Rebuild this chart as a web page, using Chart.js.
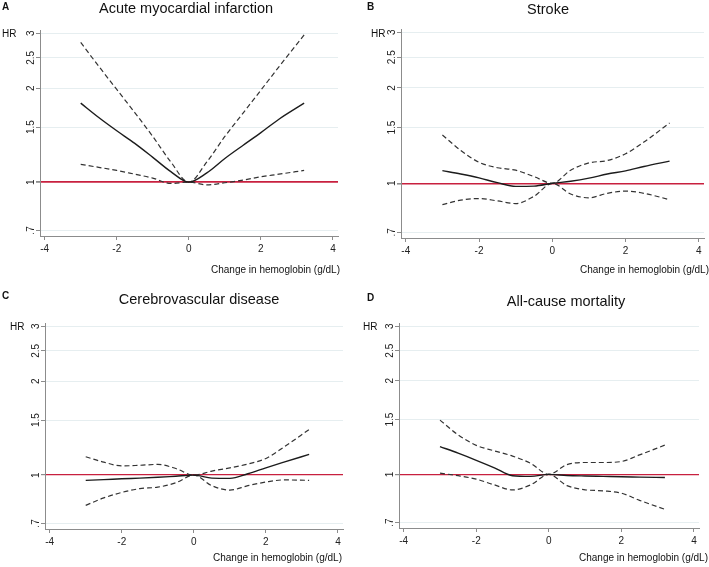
<!DOCTYPE html>
<html>
<head>
<meta charset="utf-8">
<title>Change in hemoglobin and HR</title>
<script src="https://cdn.jsdelivr.net/npm/chart.js@4"></script>
<style>
    body { margin: 0; background: #fff; }
    #figure { position: relative; width: 709px; height: 567px; font-family: "Liberation Sans", Arial, sans-serif; color: #111; }
    #figure canvas { position: absolute; }
    .txt { position: absolute; line-height: 1; white-space: nowrap; }
    .lbl { font-size: 10px; font-weight: bold; }
    .ttl { font-size: 14.5px; transform: translateX(-50%); }
    .hr { font-size: 10px; }
    .xt { font-size: 10px; }
</style>
</head>
<body>
<div id="figure">
    <canvas id="chartA" width="354" height="283" style="left:0;top:0"></canvas>
    <canvas id="chartB" width="355" height="283" style="left:354px;top:0"></canvas>
    <canvas id="chartC" width="354" height="284" style="left:0;top:283px"></canvas>
    <canvas id="chartD" width="355" height="284" style="left:354px;top:283px"></canvas>

    <div class="txt lbl" style="left:2px;top:1.5px">A</div>
    <div class="txt ttl" style="left:186px;top:1px">Acute myocardial infarction</div>
    <div class="txt hr" style="left:2px;top:29px">HR</div>
    <div class="txt xt" style="right:369px;top:265px">Change in hemoglobin (g/dL)</div>

    <div class="txt lbl" style="left:367px;top:1.5px">B</div>
    <div class="txt ttl" style="left:548px;top:1.5px">Stroke</div>
    <div class="txt hr" style="left:371px;top:28.5px">HR</div>
    <div class="txt xt" style="right:0;top:265px">Change in hemoglobin (g/dL)</div>

    <div class="txt lbl" style="left:2px;top:290.5px">C</div>
    <div class="txt ttl" style="left:199px;top:291.5px">Cerebrovascular disease</div>
    <div class="txt hr" style="left:10px;top:322px">HR</div>
    <div class="txt xt" style="right:367px;top:553px">Change in hemoglobin (g/dL)</div>

    <div class="txt lbl" style="left:367px;top:293px">D</div>
    <div class="txt ttl" style="left:566px;top:294px">All-cause mortality</div>
    <div class="txt hr" style="left:363px;top:321.5px">HR</div>
    <div class="txt xt" style="right:1px;top:553px">Change in hemoglobin (g/dL)</div>
</div>

<script>
// x positions shared by every curve (change in hemoglobin, g/dL)
const hbChange = [-3, -2.5, -2, -1.5, -1, -0.5, 0, 0.5, 1, 1.5, 2, 2.5, 3.2];
const hbTicks = [-4, -2, 0, 2, 4];
const hrTicks = [0.7, 1, 1.5, 2, 2.5, 3];
const hrTickLabels = [".7", "1", "1.5", "2", "2.5", "3"];

// A - acute myocardial infarction
const amiHR    = [1.79, 1.61, 1.46, 1.33, 1.20, 1.08, 1, 1.07, 1.19, 1.31, 1.44, 1.59, 1.79];
const amiUpper = [2.80, 2.35, 1.98, 1.67, 1.40, 1.16, 1, 1.16, 1.40, 1.66, 1.97, 2.34, 2.96];
const amiLower = [1.14, 1.115, 1.09, 1.06, 1.03, 0.99, 1, 0.98, 0.995, 1.015, 1.04, 1.06, 1.09];

// B - stroke
const strokeHR    = [1.097, 1.07, 1.04, 1.005, 0.978, 0.98, 1, 1.015, 1.038, 1.07, 1.095, 1.13, 1.175];
const strokeUpper = [1.42, 1.27, 1.165, 1.12, 1.10, 1.05, 1, 1.10, 1.16, 1.18, 1.24, 1.35, 1.55];
const strokeLower = [0.856, 0.885, 0.895, 0.88, 0.863, 0.91, 1, 0.925, 0.90, 0.93, 0.945, 0.93, 0.888];

// C - cerebrovascular disease
const cvdHR    = [0.962, 0.967, 0.973, 0.978, 0.984, 0.992, 1, 0.978, 0.976, 1.01, 1.055, 1.10, 1.165];
const cvdUpper = [1.145, 1.10, 1.07, 1.075, 1.082, 1.05, 1, 1.03, 1.055, 1.085, 1.13, 1.23, 1.40];
const cvdLower = [0.80, 0.845, 0.88, 0.905, 0.915, 0.945, 1, 0.925, 0.895, 0.925, 0.95, 0.965, 0.962];

// D - all-cause mortality
const mortHR    = [1.229, 1.17, 1.11, 1.05, 0.99, 0.985, 1, 0.992, 0.988, 0.985, 0.982, 0.98, 0.977];
const mortUpper = [1.495, 1.34, 1.24, 1.19, 1.145, 1.085, 1, 1.075, 1.092, 1.092, 1.10, 1.155, 1.242];
const mortLower = [1.009, 0.99, 0.965, 0.925, 0.891, 0.925, 1, 0.92, 0.892, 0.885, 0.87, 0.825, 0.772];

const axisGray = "#8c8c8c";
const refRed = "#c8203f";

const toPoints = (values) => values.map((y, i) => ({ x: hbChange[i], y }));

const makePanel = (canvasId, hr, upper, lower, pad, refWidth) => {
    new Chart(document.getElementById(canvasId), {
        type: "line",
        data: {
            datasets: [
                { data: toPoints(hr), borderColor: "#1c1c1c", borderWidth: 1.4 },
                { data: toPoints(upper), borderColor: "#333", borderWidth: 1.2, borderDash: [5, 3] },
                { data: toPoints(lower), borderColor: "#333", borderWidth: 1.2, borderDash: [5, 3] }
            ]
        },
        options: {
            responsive: false,
            animation: false,
            layout: { padding: pad },
            elements: {
                point: { radius: 0 },
                line: { cubicInterpolationMode: "monotone", fill: false }
            },
            plugins: { legend: { display: false }, tooltip: { enabled: false } },
            scales: {
                x: {
                    type: "linear",
                    min: -4.13,
                    max: 4.14,
                    afterBuildTicks: (s) => { s.ticks = hbTicks.map((v) => ({ value: v })); },
                    afterFit: (s) => { s.height = 20; },
                    ticks: {
                        autoSkip: false, maxRotation: 0, padding: 3,
                        color: "#222", font: { size: 10 },
                        callback: (v) => String(v)
                    },
                    grid: { drawOnChartArea: false, tickLength: 4, tickColor: axisGray },
                    border: { color: axisGray }
                },
                y: {
                    type: "logarithmic",
                    min: 0.672,
                    max: 3.07,
                    afterBuildTicks: (s) => { s.ticks = hrTicks.map((v) => ({ value: v })); },
                    afterFit: (s) => { s.width = 20; },
                    ticks: {
                        autoSkip: false, minRotation: 90, maxRotation: 90,
                        crossAlign: "center", padding: -2,
                        color: "#222", font: { size: 10 },
                        callback: (v, i) => hrTickLabels[i]
                    },
                    grid: {
                        color: (ctx) => (ctx.tick && ctx.tick.value === 1 ? refRed : "#e6eef0"),
                        lineWidth: (ctx) => (ctx.tick && ctx.tick.value === 1 ? refWidth : 1),
                        tickLength: 4,
                        tickColor: axisGray
                    },
                    border: { color: axisGray }
                }
            }
        }
    });
};

Chart.defaults.font.family = "'Liberation Sans', Arial, sans-serif";

makePanel("chartA", amiHR, amiUpper, amiLower, { left: 20, right: 16, top: 30, bottom: 27 }, 1.8);
makePanel("chartB", strokeHR, strokeUpper, strokeLower, { left: 27, right: 5, top: 29, bottom: 25 }, 1.6);
makePanel("chartC", cvdHR, cvdUpper, cvdLower, { left: 25, right: 11, top: 40, bottom: 18 }, 1.2);
makePanel("chartD", mortHR, mortUpper, mortLower, { left: 25, right: 10, top: 40, bottom: 19 }, 1.2);
</script>
</body>
</html>
